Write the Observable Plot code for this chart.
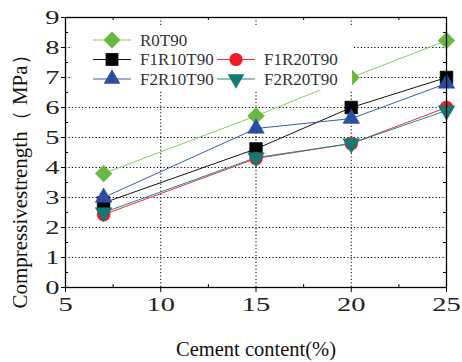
<!DOCTYPE html>
<html>
<head>
<meta charset="utf-8">
<script src="https://cdn.jsdelivr.net/npm/d3@7"></script>
<script src="https://cdn.jsdelivr.net/npm/@observablehq/plot@0.6"></script>
<style>
  html, body { margin: 0; padding: 0; background: #fff; }
  #chart { position: relative; width: 462px; height: 362px; }
</style>
</head>
<body>
<div id="chart"></div>
<script>
// Compressive strength (MPa) against cement content (%)
const cement = [7, 15, 20, 25];
const seriesNames = ["R0T90", "F1R10T90", "F1R20T90", "F2R10T90", "F2R20T90"];
const r0t90    = [3.8, 5.72, 7.0, 8.23];
const f1r10t90 = [2.82, 4.62, 6.0, 7.0];
const f1r20t90 = [2.43, 4.3, 4.8, 6.0];
const f2r10t90 = [3.0, 5.3, 5.63, 6.8];
const f2r20t90 = [2.5, 4.33, 4.8, 5.9];
const xTicks = [5, 10, 15, 20, 25];
const yTicks = [0, 1, 2, 3, 4, 5, 6, 7, 8, 9];
const xLabel = "Cement content(%)";
const yLabel = "Compressivestrength（ MPa）";

// downward-pointing triangle, same footprint as d3's symbolTriangle
const triangleDown = {
  draw(context, size) {
    const y = -Math.sqrt(size / (Math.sqrt(3) * 3));
    context.moveTo(0, -y * 2);
    context.lineTo(-Math.sqrt(3) * y, y);
    context.lineTo(Math.sqrt(3) * y, y);
    context.closePath();
  }
};

const styles = [
  {name: seriesNames[0], values: r0t90,    line: "#86cc5c", fill: "#6ab843", symbol: "diamond2", r: 7.6},
  {name: seriesNames[1], values: f1r10t90, line: "#111111", fill: "#000000", symbol: "square",   r: 7.2},
  {name: seriesNames[2], values: f1r20t90, line: "#ee3030", fill: "#ee1c24", symbol: "circle",   r: 6.6},
  {name: seriesNames[3], values: f2r10t90, line: "#3a5bb0", fill: "#2b4ea2", symbol: "triangle", r: 6.2},
  {name: seriesNames[4], values: f2r20t90, line: "#1f8a86", fill: "#117a77", symbol: triangleDown, r: 6.2}
];

const rows = styles.map(s => s.values.map((v, i) => ({series: s.name, x: cement[i], y: v})));

const minorX = d3.range(5, 25.01, 2.5).filter(v => !xTicks.includes(v));
const minorY = d3.range(0, 9.01, 0.5).filter(v => !yTicks.includes(v));

const serifFont = "Liberation Serif";

const seriesMarks = styles.flatMap((s, k) => [
  Plot.line(rows[k], {x: "x", y: "y", stroke: s.line, strokeWidth: 1}),
  Plot.dot(rows[k], {x: "x", y: "y", symbol: () => s.symbol, r: s.r, fill: s.fill, stroke: s.fill, strokeWidth: 0.5})
]);

const plot = Plot.plot({
  width: 462,
  height: 362,
  marginLeft: 65,
  marginRight: 16,
  marginTop: 17,
  marginBottom: 75,
  style: {fontFamily: serifFont, background: "#fff", color: "#222", overflow: "visible"},
  x: {domain: [5, 25]},
  y: {domain: [0, 9]},
  symbol: {type: "identity"},
  marks: [
    Plot.gridX(xTicks.slice(1, -1), {stroke: "#000", strokeOpacity: 1, strokeDasharray: "1.2,2.2", strokeWidth: 1}),
    Plot.gridY(yTicks.slice(1, -1), {stroke: "#000", strokeOpacity: 1, strokeDasharray: "1.2,2.2", strokeWidth: 1}),
    // minor ticks pointing inward on every side
    Plot.ruleX(minorX, {x: d => d, y1: 0, y2: 0.1, stroke: "#000"}),
    Plot.ruleX(minorX, {x: d => d, y1: 9, y2: 8.9, stroke: "#000"}),
    Plot.ruleY(minorY, {y: d => d, x1: 5, x2: 5.16, stroke: "#000"}),
    Plot.ruleY(minorY, {y: d => d, x1: 25, x2: 24.84, stroke: "#000"}),
    // major ticks pointing outward; their values are written below
    Plot.axisX(xTicks, {tickSize: 5, tickFormat: () => "", label: null, stroke: "#000"}),
    Plot.axisY(yTicks, {tickSize: 4, tickFormat: () => "", label: null, stroke: "#000"}),
    Plot.text(xTicks, {x: d => d, frameAnchor: "bottom", dy: 10, lineAnchor: "top", text: d => String(d),
      fontSize: 19, fontFamily: serifFont, fill: "#222", ariaDescription: "x tick values"}),
    Plot.text(yTicks, {y: d => d, frameAnchor: "left", dx: -6, textAnchor: "end", lineAnchor: "middle", text: d => String(d),
      fontSize: 19, fontFamily: serifFont, fill: "#222", ariaDescription: "y tick values"}),
    ...seriesMarks,
    Plot.frame({stroke: "#000", strokeWidth: 1.3}),
    Plot.text([xLabel], {frameAnchor: "bottom", dy: 62, lineAnchor: "middle", textAnchor: "middle",
      fontSize: 20.5, fontFamily: serifFont, fill: "#111"}),
    Plot.text([yLabel], {frameAnchor: "left", dx: -45, dy: 24, rotate: -90, lineAnchor: "middle", textAnchor: "middle",
      fontSize: 21, fontFamily: serifFont, fill: "#111"})
  ]
});

const svgNode = plot.tagName.toLowerCase() === "svg" ? plot : plot.querySelector("svg");
const svg = d3.select(svgNode);

// widen the tick digits, keeping each label anchored in place
svg.selectAll('g[aria-description="x tick values"] text, g[aria-description="y tick values"] text')
  .each(function () {
    const t = this.getAttribute("transform");
    if (t) {
      this.setAttribute("transform", t + " scale(1.5,1)");
    } else {
      const x = +this.getAttribute("x") || 0, y = +this.getAttribute("y") || 0;
      this.setAttribute("transform", `translate(${x},${y}) scale(1.5,1)`);
      this.removeAttribute("x");
      this.removeAttribute("y");
    }
  });

// legend panel drawn over the upper-left of the plot area
const legend = svg.append("g").attr("aria-label", "legend").attr("text-anchor", "start");
legend.append("rect").attr("x", 72).attr("y", 25).attr("width", 280).attr("height", 65).attr("fill", "#fff");
const slots = [
  {col: 0, row: 0}, {col: 0, row: 1}, {col: 1, row: 1}, {col: 0, row: 2}, {col: 1, row: 2}
];
const colX = [93, 217];
const rowY = [40, 59.5, 79];
styles.forEach((s, k) => {
  const x0 = colX[slots[k].col], y0 = rowY[slots[k].row];
  const g = legend.append("g");
  g.append("line").attr("x1", x0).attr("x2", x0 + 38).attr("y1", y0).attr("y2", y0)
    .attr("stroke", s.line).attr("stroke-width", 1.2);
  const sym = typeof s.symbol === "string"
    ? {diamond2: d3.symbolDiamond2, square: d3.symbolSquare, circle: d3.symbolCircle, triangle: d3.symbolTriangle}[s.symbol]
    : s.symbol;
  g.append("path").attr("d", d3.symbol(sym, Math.PI * s.r * s.r)())
    .attr("transform", `translate(${x0 + 19},${y0})`).attr("fill", s.fill);
  g.append("text").attr("x", x0 + 47).attr("y", y0).attr("dy", "0.35em").attr("text-anchor", "start")
    .attr("font-size", 17).attr("fill", "#333").attr("font-family", serifFont).text(s.name);
});

document.getElementById("chart").appendChild(plot);
</script>
</body>
</html>
